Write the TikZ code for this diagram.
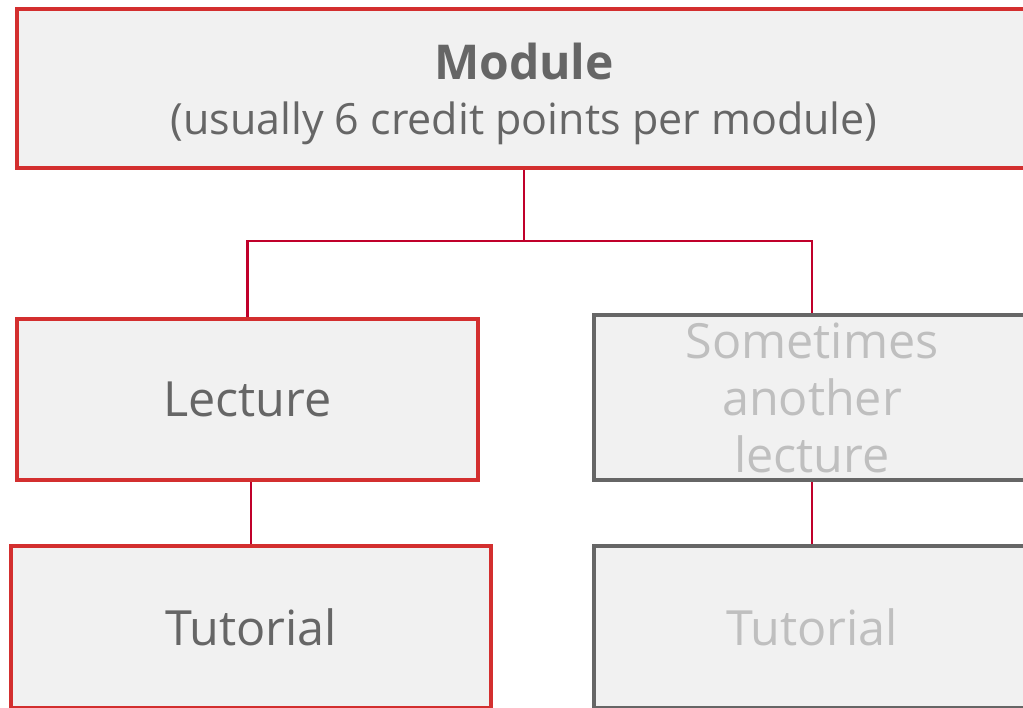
\documentclass[tikz,border=0pt]{standalone}
\usepackage{fontspec}
\setmainfont{Open Sans}
\definecolor{boxred}{HTML}{D32F2F}
\definecolor{boxgray}{HTML}{666666}
\definecolor{boxfill}{HTML}{F1F1F1}
\definecolor{txt}{HTML}{666666}
\definecolor{lighttxt}{HTML}{BFBFBF}
\definecolor{conn}{HTML}{C0002A}
\begin{document}
\begin{tikzpicture}[x=1pt,y=-1pt,
  redbox/.style={draw=boxred, line width=4pt, fill=boxfill, text=txt, align=center, inner sep=0pt,
    font=\fontsize{48.5}{57}\selectfont},
  graybox/.style={draw=boxgray, line width=4pt, fill=boxfill, text=lighttxt, align=center, inner sep=0pt,
    font=\fontsize{48.5}{57}\selectfont},
  connline/.style={draw=conn, line width=2.7pt}]
\clip (0,0) rectangle (1023,707);
\fill[white] (0,0) rectangle (1023,707);
\node[redbox, minimum width=1014pt, minimum height=159pt, font=\fontsize{43}{55}\selectfont] (module) at (524,88.5) {};
\node[text=txt, align=center, inner sep=0pt, font=\fontsize{43}{55}\selectfont] (moduletext) at (524,93.5)
  {{\fontsize{48}{55}\selectfont\textbf{Module}}\\(usually 6 credit points per module)};
\node[redbox, minimum width=461pt, minimum height=161pt] (lecture) at (247.5,399.5) {Lecture};
\node[graybox, minimum width=436pt, minimum height=165pt] (other) at (812,397.5) {Sometimes\\another\\lecture};
\node[redbox, minimum width=480pt, minimum height=162pt] (tut1) at (251,627) {Tutorial};
\node[graybox, minimum width=436pt, minimum height=162pt] (tut2) at (812,627) {Tutorial};
\coordinate (j) at (524,241);
\draw[connline] (module.south) -- (j);
\draw[connline] (j) -| (lecture.north);
\draw[connline] (j) -| (other.north);
\draw[connline] (tut1.north |- lecture.south) -- (tut1.north);
\draw[connline] (tut2.north |- other.south) -- (tut2.north);
\end{tikzpicture}
\end{document}
